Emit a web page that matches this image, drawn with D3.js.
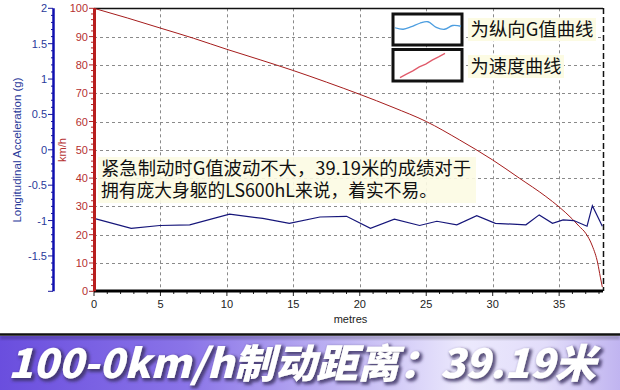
<!DOCTYPE html>
<html lang="zh">
<head>
<meta charset="UTF-8">
<title>LS600hL 100-0km/h 制动</title>
<style>
  html, body { margin: 0; padding: 0; background: #fff; }
  svg { display: block; }
</style>
</head>
<body>
<div id="chart"></div>
<script src="https://cdn.jsdelivr.net/npm/d3@7/dist/d3.min.js"></script>
<script>
// speed curve (km/h) against distance (m)
const speedDist = [0, 2.5, 5, 7.5, 10, 12.5, 15, 17.5, 20, 22.5, 25, 27.5, 30, 32, 34, 35, 36, 36.5, 37, 37.5, 37.9, 38.1, 38.25];
const speedVals = [100, 96.6, 93, 89.4, 85.5, 81.8, 78, 73.9, 69.6, 65, 60, 53.5, 46.4, 40, 33.5, 29.8, 25.5, 23, 20.5, 16, 10, 5, 1.5];

// longitudinal G against distance (m)
const gDist = [0, 2.8, 4.95, 7.2, 10.2, 12.7, 14.7, 17, 19, 20.8, 22.6, 24.5, 25.8, 27.3, 28.8, 30.2, 32.5, 33.5, 34.5, 35.3, 36.1, 37.1, 37.5, 38.25];
const gVals = [-0.97, -1.11, -1.07, -1.06, -0.91, -0.97, -1.04, -0.95, -0.94, -1.11, -0.98, -1.07, -1.01, -1.06, -0.93, -1.04, -1.06, -0.92, -1.04, -0.99, -1.0, -1.08, -0.79, -1.08];

// tick labels
const distTicks = [0, 5, 10, 15, 20, 25, 30, 35];
const speedTicks = [0, 10, 20, 30, 40, 50, 60, 70, 80, 90, 100];
const gTicks = [2, 1.5, 1, 0.5, 0, -0.5, -1, -1.5];

// little sample lines inside the legend boxes
const legendGWave = [0.55, 0.45, 0.62, 0.85, 0.95, 0.58, 0.45, 0.7, 0.65];
const legendSpeedRamp = [0.05, 0.18, 0.3, 0.45, 0.55, 0.7, 0.82, 0.95];

const notes = ["紧急制动时G值波动不大，39.19米的成绩对于", "拥有庞大身躯的LS600hL来说，着实不易。"];
const legendLabels = ["为纵向G值曲线", "为速度曲线"];
const banner = "100-0km/h制动距离：39.19米";

const W = 620, H = 390;
const latin = "'Liberation Sans', Arial, sans-serif";
const cjk = "'Noto Sans CJK SC', 'Noto Sans', sans-serif";

const svg = d3.select("#chart").append("svg")
    .attr("width", W)
    .attr("height", H);

svg.append("rect").attr("width", W).attr("height", H).attr("fill", "#fff");

const x = d3.scaleLinear().domain([0, 38.3]).range([94, 603]);
const ySpeed = d3.scaleLinear().domain([0, 100]).range([291.3, 8.3]);
const yG = d3.scaleLinear().domain([-2, 2]).range([291.3, 8.3]);

// dashed grid
const grid = svg.append("g").attr("stroke", "#8a8a8a").attr("stroke-dasharray", "3,3").attr("stroke-width", 1);
grid.selectAll("line.h").data(speedTicks.filter(d => d > 0 && d < 100)).enter().append("line")
    .attr("x1", x(0)).attr("x2", x.range()[1])
    .attr("y1", d => Math.round(ySpeed(d)) + 0.5).attr("y2", d => Math.round(ySpeed(d)) + 0.5);
grid.selectAll("line.v").data(distTicks.filter(d => d > 0)).enter().append("line")
    .attr("y1", ySpeed(100)).attr("y2", ySpeed(0))
    .attr("x1", d => Math.round(x(d)) + 0.5).attr("x2", d => Math.round(x(d)) + 0.5);

// top and right frame
svg.append("line").attr("x1", x(0)).attr("x2", x.range()[1])
    .attr("y1", 8.5).attr("y2", 8.5).attr("stroke", "#111").attr("stroke-width", 1.5);
svg.append("line").attr("x1", 603.5).attr("x2", 603.5)
    .attr("y1", 8).attr("y2", 291).attr("stroke", "#111").attr("stroke-width", 1.5)
    .attr("stroke-dasharray", "6,3");

// annotation text with pale highlight
const noteG = svg.append("g");
noteG.append("rect").attr("x", 98).attr("y", 157).attr("width", 378).attr("height", 46)
    .attr("fill", "#fcfbe3").attr("opacity", 0.9);
noteG.selectAll("text").data(notes).enter().append("text")
    .attr("x", 101)
    .attr("y", (d, i) => 175 + i * 22)
    .attr("font-family", cjk)
    .attr("font-size", 18)
    .attr("fill", "#111")
    .attr("textLength", (d, i) => i === 0 ? 370 : 336)
    .attr("lengthAdjust", "spacingAndGlyphs")
    .text(d => d);

// speed curve
svg.append("path")
    .datum(speedDist.map((d, i) => [d, speedVals[i]]))
    .attr("fill", "none")
    .attr("stroke", "#a51c1c")
    .attr("stroke-width", 1)
    .attr("d", d3.line().x(d => x(d[0])).y(d => ySpeed(d[1])).curve(d3.curveMonotoneX));

// G curve
svg.append("path")
    .datum(gDist.map((d, i) => [d, gVals[i]]))
    .attr("fill", "none")
    .attr("stroke", "#16167a")
    .attr("stroke-width", 1.2)
    .attr("d", d3.line().x(d => x(d[0])).y(d => yG(d[1])));

// bottom axis
const xAxis = svg.append("g").attr("transform", "translate(0,291)");
xAxis.selectAll("line.minor").data(d3.range(0, 39, 1)).enter().append("line")
    .attr("x1", d => x(d)).attr("x2", d => x(d))
    .attr("y1", 0).attr("y2", d => d % 5 === 0 ? 5 : 3)
    .attr("stroke", "#222");
xAxis.append("line").attr("x1", x(0)).attr("x2", x.range()[1])
    .attr("stroke", "#000").attr("stroke-width", 3);
xAxis.selectAll("text").data(distTicks).enter().append("text")
    .attr("x", d => x(d)).attr("y", 17)
    .attr("text-anchor", "middle")
    .attr("font-family", latin).attr("font-size", 11).attr("fill", "#222")
    .text(d => d);
svg.append("text").attr("x", x(19.3)).attr("y", 323)
    .attr("text-anchor", "middle")
    .attr("font-family", latin).attr("font-size", 11).attr("fill", "#222")
    .text("metres");

// speed axis (red)
const sAxis = svg.append("g");
sAxis.selectAll("line").data(d3.range(0, 101, 2)).enter().append("line")
    .attr("x1", d => d % 10 === 0 ? 89 : 91).attr("x2", 94)
    .attr("y1", d => ySpeed(d)).attr("y2", d => ySpeed(d))
    .attr("stroke", "#b02828");
sAxis.append("line").attr("x1", 94.5).attr("x2", 94.5)
    .attr("y1", ySpeed(100)).attr("y2", ySpeed(0))
    .attr("stroke", "#b81e1e").attr("stroke-width", 3);
sAxis.selectAll("text").data(speedTicks).enter().append("text")
    .attr("x", 88).attr("y", d => ySpeed(d) + 4)
    .attr("text-anchor", "end")
    .attr("font-family", latin).attr("font-size", 11).attr("fill", "#b53030")
    .text(d => d);
svg.append("text")
    .attr("transform", "translate(66,150) rotate(-90)")
    .attr("text-anchor", "middle")
    .attr("font-family", latin).attr("font-size", 11).attr("fill", "#b53030")
    .text("km/h");

// G axis (blue)
const gAxis = svg.append("g");
gAxis.selectAll("line").data(d3.range(-20, 21, 1)).enter().append("line")
    .attr("x1", d => d % 5 === 0 ? 48 : 51).attr("x2", 53)
    .attr("y1", d => yG(d / 10)).attr("y2", d => yG(d / 10))
    .attr("stroke", "#1a1a9a");
gAxis.append("line").attr("x1", 53.5).attr("x2", 53.5)
    .attr("y1", yG(2)).attr("y2", yG(-2))
    .attr("stroke", "#1010b0").attr("stroke-width", 2.5);
gAxis.selectAll("text").data(gTicks).enter().append("text")
    .attr("x", 47).attr("y", d => yG(d) + 4)
    .attr("text-anchor", "end")
    .attr("font-family", latin).attr("font-size", 11).attr("fill", "#2a3a9a")
    .text(d => d);
svg.append("text")
    .attr("transform", "translate(21,150) rotate(-90)")
    .attr("text-anchor", "middle")
    .attr("font-family", latin).attr("font-size", 11.5).attr("fill", "#2a3a9a")
    .text("Longitudinal Acceleration (g)");

// legend boxes
const boxes = [{ y: 14, h: 31 }, { y: 49.5, h: 31.5 }];
const legend = svg.append("g");
legend.selectAll("rect.box").data(boxes).enter().append("rect")
    .attr("x", 393).attr("y", d => d.y).attr("width", 69).attr("height", d => d.h)
    .attr("fill", "#fff").attr("stroke", "#111").attr("stroke-width", 3);
const lx = d3.scaleLinear().domain([0, legendGWave.length - 1]).range([395, 461]);
const ly1 = d3.scaleLinear().domain([0, 1]).range([36, 21]);
legend.append("path").datum(legendGWave)
    .attr("fill", "none").attr("stroke", "#4d9ee0").attr("stroke-width", 1.3)
    .attr("d", d3.line().x((d, i) => lx(i)).y(d => ly1(d)).curve(d3.curveCardinal));
const lx2 = d3.scaleLinear().domain([0, legendSpeedRamp.length - 1]).range([400, 445]);
const ly2 = d3.scaleLinear().domain([0, 1]).range([79, 52]);
legend.append("path").datum(legendSpeedRamp)
    .attr("fill", "none").attr("stroke", "#e05a6a").attr("stroke-width", 1.3)
    .attr("d", d3.line().x((d, i) => lx2(i)).y(d => ly2(d)));
legend.selectAll("rect.bg").data(legendLabels).enter().append("rect")
    .attr("x", 468).attr("y", (d, i) => 18 + i * 37)
    .attr("width", (d, i) => i === 0 ? 128 : 96).attr("height", 23)
    .attr("fill", "#fcfbe3");
legend.selectAll("text").data(legendLabels).enter().append("text")
    .attr("x", 470.5).attr("y", (d, i) => 36 + i * 37)
    .attr("font-family", cjk).attr("font-size", 18.5).attr("fill", "#111")
    .attr("textLength", (d, i) => i === 0 ? 123 : 91)
    .attr("lengthAdjust", "spacingAndGlyphs")
    .text(d => d);

// footer banner
const defs = svg.append("defs");
const grad = defs.append("linearGradient").attr("id", "band").attr("x1", "0").attr("x2", "1");
[["0%", "#6a4ede"], ["30%", "#8a74e8"], ["58%", "#c6bcf4"], ["75%", "#ece9fd"], ["88%", "#e2ddfa"], ["100%", "#c0b4f0"]]
    .forEach(s => grad.append("stop").attr("offset", s[0]).attr("stop-color", s[1]));
const blur = defs.append("filter").attr("id", "soft").attr("x", "-10%").attr("y", "-40%").attr("width", "120%").attr("height", "180%");
blur.append("feGaussianBlur").attr("stdDeviation", 1.6);

// white text with a dark blurred halo behind it, in one element
const glow = defs.append("filter").attr("id", "glow").attr("x", "-5%").attr("y", "-30%").attr("width", "110%").attr("height", "160%");
glow.append("feMorphology").attr("in", "SourceAlpha").attr("operator", "dilate").attr("radius", 1.2).attr("result", "fat");
glow.append("feGaussianBlur").attr("in", "fat").attr("stdDeviation", 1.5).attr("result", "blurred");
glow.append("feOffset").attr("in", "blurred").attr("dx", 1.5).attr("dy", 1.5).attr("result", "moved");
glow.append("feFlood").attr("flood-color", "#3a3060").attr("flood-opacity", 0.8);
glow.append("feComposite").attr("in2", "moved").attr("operator", "in").attr("result", "shadow");
const merge = glow.append("feMerge");
merge.append("feMergeNode").attr("in", "shadow");
merge.append("feMergeNode").attr("in", "SourceGraphic");

svg.append("rect").attr("x", 0).attr("y", 336).attr("width", W).attr("height", 54).attr("fill", "url(#band)");
svg.append("rect").attr("x", 0).attr("y", 336).attr("width", W).attr("height", 3).attr("fill", "#000").attr("opacity", 0.25).attr("filter", "url(#soft)");
svg.append("line").attr("x1", 0).attr("x2", W).attr("y1", 334.5).attr("y2", 334.5).attr("stroke", "#111").attr("stroke-width", 2.5);

svg.append("text")
    .attr("x", 8)
    .attr("y", 378)
    .attr("font-family", cjk)
    .attr("font-size", 40)
    .attr("font-weight", 900)
    .attr("font-style", "italic")
    .attr("textLength", 588)
    .attr("lengthAdjust", "spacingAndGlyphs")
    .attr("fill", "#fff")
    .attr("filter", "url(#glow)")
    .text(banner);
</script>
</body>
</html>
